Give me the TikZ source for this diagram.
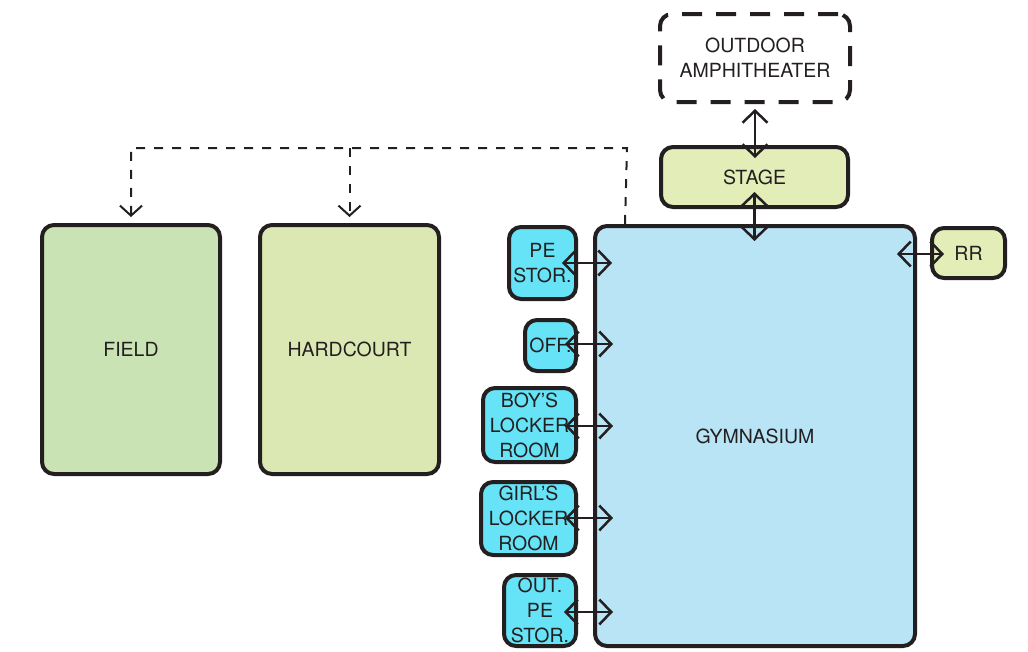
\documentclass[tikz,border=0pt]{standalone}
\usepackage{fontspec}
\setmainfont{TeX Gyre Heros}
\usetikzlibrary{arrows.meta,calc}
\definecolor{ink}{HTML}{231F20}
\definecolor{fieldc}{HTML}{C9E3B4}
\definecolor{hardc}{HTML}{DCE8B4}
\definecolor{gymc}{HTML}{B9E4F6}
\definecolor{roomc}{HTML}{66E3F6}
\definecolor{stagec}{HTML}{E3EDB8}
\tikzset{
  box/.style={draw=ink, line width=4pt, rounded corners=12pt, inner sep=0pt,
    align=center, text=ink, font=\fontsize{19.5}{25}\selectfont},
  chev/.tip={Straight Barb[length=12pt,width=25pt]},
  dbl/.style={draw=ink, line width=2.5pt, chev-chev},
  dashconn/.style={draw=ink, line width=2pt, dash pattern=on 9pt off 9pt, -{Straight Barb[length=10pt,width=22pt]}},
}
\begin{document}
\begin{tikzpicture}[x=1pt,y=-1pt]
\useasboundingbox (0,0) rectangle (1028,651);
% main areas
\node[box, fill=fieldc, minimum width=178pt, minimum height=249pt] (field) at (131,349.5) {\raisebox{-1.5pt}{FIELD}};
\node[box, fill=hardc, minimum width=179pt, minimum height=249pt] (hard) at (349.5,349.5) {\raisebox{-1.5pt}{HARDCOURT}};
\node[box, fill=gymc, minimum width=320pt, minimum height=420pt] (gym) at (755,436) {\raisebox{-1.5pt}{GYMNASIUM}};
\node[box, fill=stagec, minimum width=187pt, minimum height=60pt] (stage) at (754.5,177) {\raisebox{-1.5pt}{STAGE}};
\node[box, fill=white, dash pattern=on 20pt off 14pt, minimum width=190pt, minimum height=88pt] (amph) at (755,58) {OUTDOOR\\AMPHITHEATER};
\node[box, fill=stagec, minimum width=73pt, minimum height=50pt] (rr) at (968.5,253) {\raisebox{-1.5pt}{RR}};
% side rooms
\node[box, fill=roomc, minimum width=67pt, minimum height=72pt] (pes) at (542.5,263) {PE\\STOR.};
\node[box, fill=roomc, minimum width=51pt, minimum height=51pt] (off) at (550.5,345.5) {\raisebox{-1.5pt}{OFF.}};
\node[box, fill=roomc, minimum width=93pt, minimum height=74pt] (boy) at (529.5,425) {BOY’S\\LOCKER\\ROOM};
\node[box, fill=roomc, minimum width=95pt, minimum height=73pt] (girl) at (528.5,518.5) {GIRL’S\\LOCKER\\ROOM};
\node[box, fill=roomc, minimum width=72pt, minimum height=71pt] (outpe) at (540,610.5) {OUT.\\PE\\STOR.};
% connectors to gym
\draw[dbl, shorten <=-16pt, shorten >=-19pt] (pes.east) -- (pes.east -| gym.west);
\draw[dbl, shorten <=-13pt, shorten >=-20pt] ([yshift=1.5pt]off.east) -- ([yshift=1.5pt]off.east -| gym.west);
\draw[dbl, shorten <=-13pt, shorten >=-20pt] ([yshift=-1pt]boy.east) -- ([yshift=-1pt]boy.east -| gym.west);
\draw[dbl, shorten <=-13pt, shorten >=-20pt] ([yshift=0.5pt]girl.east) -- ([yshift=0.5pt]girl.east -| gym.west);
\draw[dbl, shorten <=-14pt, shorten >=-20pt] ([yshift=-1.5pt]outpe.east) -- ([yshift=-1.5pt]outpe.east -| gym.west);
\draw[dbl, shorten <=-20pt, shorten >=-14pt] ([yshift=-1pt]rr.west -| gym.east) -- ([yshift=-1pt]rr.west);
\draw[dbl, shorten <=-17pt, shorten >=-17pt] (stage.south) -- (stage.south |- gym.north);
\draw[dbl, shorten <=5pt, shorten >=-13pt] (amph.south) -- (amph.south |- stage.north);
% dashed links
\coordinate (jn) at (627,148);
\draw[dashconn, shorten >=6pt] ([xshift=32pt]gym.north west) -- (jn) -| (field.north);
\draw[dashconn, shorten >=6pt] (hard.north |- jn) -- (hard.north);
\end{tikzpicture}
\end{document}
